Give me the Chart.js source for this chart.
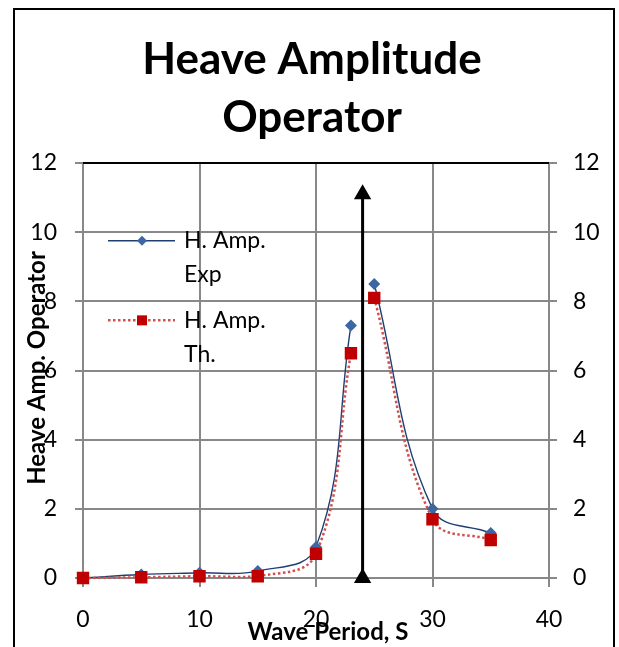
<!DOCTYPE html>
<html>
<head>
<meta charset="utf-8">
<script src="https://cdn.jsdelivr.net/npm/chart.js@4.4.1/dist/chart.umd.min.js"></script>
<style>
  html, body { margin: 0; padding: 0; background: #fff; }
  #wrap { width: 619px; height: 647px; }
</style>
</head>
<body>
<div id="wrap"><canvas id="graficoHeave" width="619" height="647"></canvas></div>
<script>
// datos
const periodos = [0, 5, 10, 15, 20, 23, 25, 30, 35];
const ampExp = [0, 0.1, 0.15, 0.2, 0.9, 7.3, 8.5, 2.0, 1.3];
const ampTh = [0, 0.02, 0.05, 0.05, 0.7, 6.5, 8.1, 1.7, 1.1];
const flechaX = [24, 24];
const flechaY = [0, 11.1];
const etiquetasExp = ['H. Amp.', 'Exp'];
const etiquetasTh = ['H. Amp.', 'Th.'];
// en el original la curva se corta entre 23 y 25 s
const corte = 6;

const fuente = 'Lato, "Open Sans", sans-serif';

const estiloExp = {
  borderColor: '#1F3F73',
  borderWidth: 1.4,
  pointStyle: 'rectRot',
  pointRadius: 5,
  pointBackgroundColor: '#3C67A3',
  pointBorderColor: '#3C67A3',
  tension: 0.4,
  clip: false,
  order: 2
};
const estiloTh = {
  borderColor: '#D05050',
  borderWidth: 2.5,
  borderDash: [2.5, 2.5],
  pointStyle: 'rect',
  pointRadius: 7,
  pointBackgroundColor: '#C00000',
  pointBorderColor: '#C00000',
  tension: 0.4,
  clip: false,
  order: 1
};

function tramo(valores, desde, hasta) {
  return periodos.slice(desde, hasta).map((p, i) => ({ x: p, y: valores[desde + i] }));
}

// titulo, titulos de ejes, marco y leyenda dibujados a mano
const extras = {
  id: 'extras',
  afterDraw(chart) {
    const ctx = chart.ctx;
    const area = chart.chartArea;
    ctx.save();
    ctx.strokeStyle = '#000';
    ctx.lineWidth = 2;
    ctx.strokeRect(14, 9, 600, 700);
    ctx.beginPath();
    ctx.moveTo(area.left, area.top);
    ctx.lineTo(area.right, area.top);
    ctx.stroke();

    ctx.fillStyle = '#000';
    ctx.textAlign = 'center';
    ctx.textBaseline = 'middle';
    ctx.font = 'bold 44px ' + fuente;
    ctx.fillText('Heave Amplitude', 312, 60);
    ctx.fillText('Operator', 312, 118);

    ctx.font = 'bold 24px ' + fuente;
    ctx.fillText('Wave Period, S', 328, 632);
    ctx.save();
    ctx.translate(37, 368);
    ctx.rotate(-Math.PI / 2);
    ctx.fillText('Heave Amp. Operator', 0, 0);
    ctx.restore();

    // leyenda
    const y = chart.scales.y;
    const filas = [
      { ds: estiloExp, txt: etiquetasExp, yv: 9.75 },
      { ds: estiloTh, txt: etiquetasTh, yv: 7.45 }
    ];
    filas.forEach(f => {
      const py = y.getPixelForValue(f.yv);
      ctx.strokeStyle = f.ds.borderColor;
      ctx.lineWidth = f.ds.borderWidth;
      ctx.setLineDash(f.ds.borderDash || []);
      ctx.beginPath();
      ctx.moveTo(108, py);
      ctx.lineTo(175, py);
      ctx.stroke();
      ctx.setLineDash([]);
      ctx.fillStyle = f.ds.pointBackgroundColor;
      if (f.ds.pointStyle === 'rectRot') {
        ctx.beginPath();
        ctx.moveTo(142, py - 5);
        ctx.lineTo(147, py);
        ctx.lineTo(142, py + 5);
        ctx.lineTo(137, py);
        ctx.closePath();
        ctx.fill();
      } else {
        ctx.fillRect(137, py - 5, 10, 10);
      }
      ctx.fillStyle = '#000';
      ctx.textAlign = 'left';
      ctx.font = '23px ' + fuente;
      ctx.fillText(f.txt[0], 184, py);
      ctx.fillText(f.txt[1], 184, py + 34);
    });
    ctx.restore();
  }
};

const ctx = document.getElementById('graficoHeave').getContext('2d');
new Chart(ctx, {
  type: 'line',
  data: {
    datasets: [
      Object.assign({ label: etiquetasExp.join(' '), data: tramo(ampExp, 0, corte) }, estiloExp),
      Object.assign({ label: etiquetasExp.join(' '), data: tramo(ampExp, corte, periodos.length) }, estiloExp),
      Object.assign({ label: etiquetasTh.join(' '), data: tramo(ampTh, 0, corte) }, estiloTh),
      Object.assign({ label: etiquetasTh.join(' '), data: tramo(ampTh, corte, periodos.length) }, estiloTh),
      {
        label: 'flecha',
        data: flechaX.map((v, i) => ({ x: v, y: flechaY[i] })),
        borderColor: '#000',
        borderWidth: 3,
        pointStyle: 'triangle',
        pointRadius: 7,
        pointBackgroundColor: '#000',
        pointBorderColor: '#000',
        tension: 0,
        clip: false,
        order: 0
      }
    ]
  },
  options: {
    responsive: false,
    animation: false,
    layout: { padding: { top: 163, left: 0, right: 0, bottom: 0 } },
    plugins: { legend: { display: false }, tooltip: { enabled: false } },
    scales: {
      x: {
        type: 'linear',
        min: 0,
        max: 40,
        afterFit: s => { s.height = 69; },
        grid: { color: '#888', lineWidth: 2, tickLength: 9, tickColor: '#888' },
        border: { display: false },
        ticks: { stepSize: 10, color: '#000', font: { family: fuente, size: 23 }, padding: 19 }
      },
      y: {
        min: 0,
        max: 12,
        afterFit: s => { s.width = 83; },
        grid: { color: '#888', lineWidth: 2, tickLength: 8, tickColor: '#888' },
        border: { display: false },
        ticks: { stepSize: 2, color: '#000', font: { family: fuente, size: 23 }, padding: 18 }
      },
      y2: {
        position: 'right',
        min: 0,
        max: 12,
        afterFit: s => { s.width = 70; },
        grid: { drawOnChartArea: false, color: '#888', lineWidth: 2, tickLength: 8, tickColor: '#888' },
        border: { display: false },
        ticks: { stepSize: 2, color: '#000', font: { family: fuente, size: 23 }, padding: 16 }
      }
    }
  },
  plugins: [extras]
});
</script>
</body>
</html>
